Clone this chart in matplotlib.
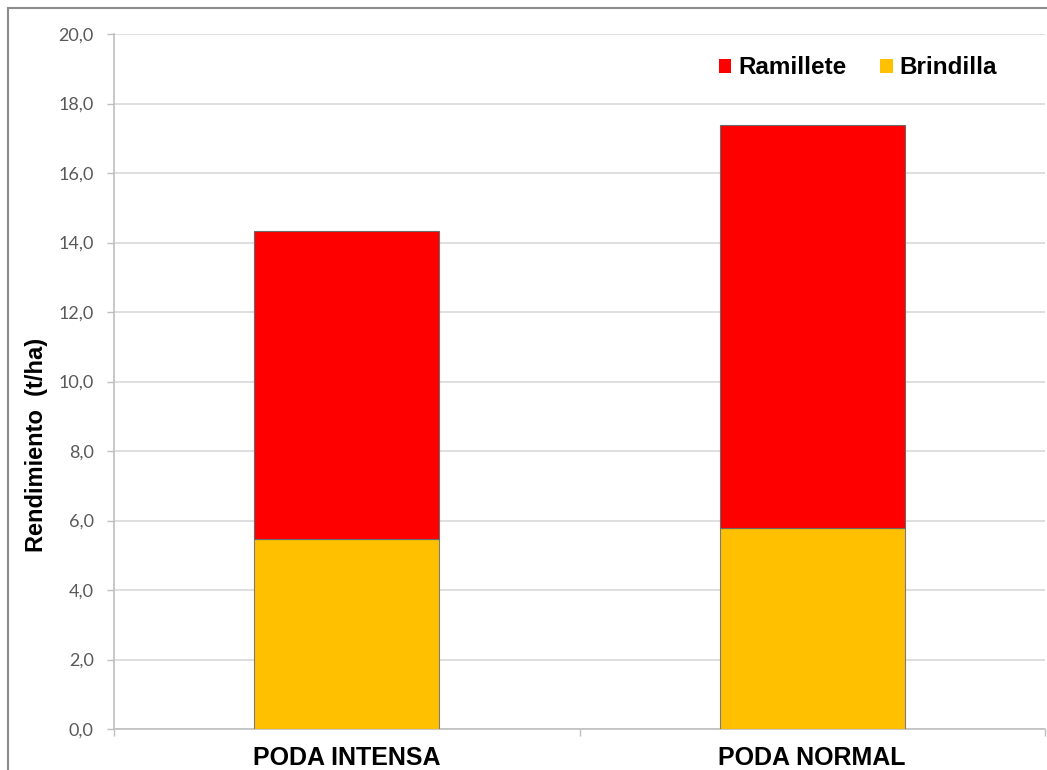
import matplotlib
matplotlib.use("Agg")
import matplotlib.pyplot as plt
from matplotlib.patches import Patch, Rectangle

categories = ["PODA INTENSA", "PODA NORMAL"]
brindilla = [5.46, 5.78]
ramillete = [8.87, 11.60]
yticks = [0, 2, 4, 6, 8, 10, 12, 14, 16, 18, 20]
ytick_labels = ["0,0", "2,0", "4,0", "6,0", "8,0", "10,0", "12,0", "14,0", "16,0", "18,0", "20,0"]

RED = "#FF0000"
YEL = "#FFC000"
W, H = 1047, 770

fig = plt.figure(figsize=(W / 100, H / 100), dpi=100)
fig.patch.set_facecolor("white")

# outer chart frame (cropped at right/bottom)
fig.patches.append(Rectangle((8 / W, -0.2), 1.5, 1.2 - 8 / H, transform=fig.transFigure,
                             fill=False, edgecolor="#8c8c8c", linewidth=1.5, zorder=0))

ax = fig.add_axes([114 / W, 1 - 729 / H, (1045 - 114) / W, (729 - 34) / H])

x = [0.5, 1.5]
bw = 0.397
ax.bar(x, brindilla, width=bw, color=YEL, edgecolor="#7a7a7a", linewidth=0.8, zorder=3, label="Brindilla")
ax.bar(x, ramillete, width=bw, bottom=brindilla, color=RED, edgecolor="#6a6a6a", linewidth=0.8,
       zorder=3, label="Ramillete")

ax.set_xlim(0, 2)
ax.set_ylim(0, 20)
ax.set_yticks(yticks)
ax.set_yticklabels(ytick_labels, fontfamily="Lato", fontsize=13, color="#595959")
ax.yaxis.grid(True, color="#d9d9d9", linewidth=1.2, zorder=0)
ax.set_axisbelow(True)
ax.tick_params(axis="y", length=5, width=1, color="#bfbfbf", pad=9.5)

ax.set_xticks([0, 1, 2])
ax.set_xticklabels([])
ax.set_xticks(x, minor=True)
ax.set_xticklabels(categories, minor=True, fontfamily="Liberation Sans", fontweight="bold",
                   fontsize=18, color="black")
ax.tick_params(axis="x", which="major", length=5, width=1, color="#bfbfbf")
ax.tick_params(axis="x", which="minor", length=0, pad=12)

for s in ["top", "right"]:
    ax.spines[s].set_visible(False)
for s in ["left", "bottom"]:
    ax.spines[s].set_color("#bfbfbf")
    ax.spines[s].set_linewidth(1.2)

fig.text(37 / W, 1 - 445 / H, "Rendimiento  (t/ha)", rotation=90, ha="center", va="center",
         fontfamily="Liberation Sans", fontweight="bold", fontsize=17, color="black")

handles = [Patch(facecolor=RED, edgecolor="none"), Patch(facecolor=YEL, edgecolor="none")]
leg = ax.legend(handles, ["Ramillete", "Brindilla"], ncol=2, frameon=False,
                loc="center", bbox_to_anchor=((858 - 114) / (1045 - 114), (729 - 68) / (729 - 34)),
                bbox_transform=ax.transAxes,
                handlelength=0.5, handleheight=0.5, handletextpad=0.3, columnspacing=1.4,
                prop={"family": "Liberation Sans", "weight": "bold", "size": 17.5})

fig.savefig("out.png", dpi=100, facecolor="white")
